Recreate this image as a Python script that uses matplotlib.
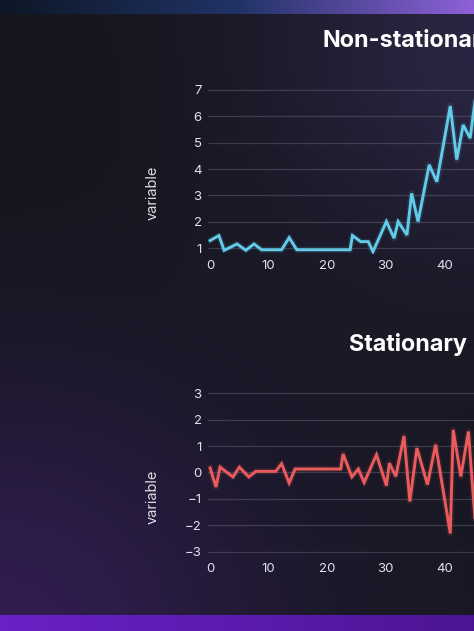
import numpy as np
import matplotlib
matplotlib.use("Agg")
import matplotlib.pyplot as plt

# values (x, y of each vertex)
nonstat_x = [0.0, 1.5, 2.4, 4.6, 6.1, 7.5, 8.8, 12.2, 13.5, 14.8, 23.9, 24.3, 25.7, 27.0,
             27.8, 30.1, 31.4, 32.1, 33.6, 34.4, 35.5, 37.4, 38.7, 41.0, 42.1, 43.2, 44.4, 45.2]
nonstat_y = [1.29, 1.48, 0.92, 1.16, 0.92, 1.16, 0.94, 0.94, 1.40, 0.94, 0.94, 1.48, 1.25, 1.25,
             0.87, 2.01, 1.38, 2.01, 1.50, 3.08, 2.01, 4.16, 3.52, 6.39, 4.36, 5.67, 5.17, 6.54]

stat_x = [0.0, 1.0, 1.7, 3.9, 5.0, 6.6, 7.8, 11.2, 12.2, 13.5, 14.5, 22.3, 22.7, 24.2, 25.3,
          26.3, 28.4, 30.1, 30.6, 31.7, 33.1, 34.1, 35.3, 37.1, 38.5, 41.0, 41.5, 42.8, 44.1, 45.2]
stat_y = [0.17, -0.55, 0.20, -0.17, 0.20, -0.17, 0.04, 0.04, 0.33, -0.40, 0.13, 0.13, 0.70, -0.17,
          0.13, -0.38, 0.67, -0.50, 0.35, -0.15, 1.38, -1.10, 0.92, -0.46, 1.05, -2.31, 1.61, -0.15,
          1.55, -1.72]

titles = ["Non-stationary", "Stationary"]
x_ticks = [0, 10, 20, 30, 40]
top_yticks = [1, 2, 3, 4, 5, 6, 7]
bot_yticks = [-3, -2, -1, 0, 1, 2, 3]

W, H = 474, 631
plt.rcParams["font.family"] = ["Inter", "DejaVu Sans"]

fig = plt.figure(figsize=(W / 100, H / 100), dpi=100)

# background: dark with purple glows and two bands
bg = fig.add_axes([0, 0, 1, 1])
yy, xx = np.mgrid[0:H, 0:W]
img = np.zeros((H, W, 3))
img[:] = np.array([0.094, 0.094, 0.137])
g1 = np.exp(-(((xx - 0) / 260.0) ** 2 + ((yy - 640) / 240.0) ** 2))
img += g1[..., None] * np.array([0.10, 0.02, 0.18])
g2 = np.exp(-(((xx - 480) / 200.0) ** 2 + ((yy - 40) / 200.0) ** 2))
img += g2[..., None] * np.array([0.07, 0.05, 0.12])
g3 = np.exp(-(((xx - 0) / 200.0) ** 2 + ((yy - 120) / 200.0) ** 2))
img -= g3[..., None] * np.array([0.01, 0.01, 0.02])
t = xx / W
top = (yy < 14)
c_left = np.array([0.05, 0.09, 0.15])
c_mid = np.array([0.13, 0.20, 0.40])
c_right = np.array([0.56, 0.38, 0.85])
tb = np.where(t[..., None] < 0.5,
              c_left + (c_mid - c_left) * (t[..., None] / 0.5),
              c_mid + (c_right - c_mid) * ((t[..., None] - 0.5) / 0.5))
img[top] = tb[top]
bot = (yy >= 615)
bb = np.array([0.42, 0.13, 0.78]) + (np.array([0.30, 0.08, 0.58]) - np.array([0.42, 0.13, 0.78])) * t[..., None]
img[bot] = bb[bot]
bg.imshow(np.clip(img, 0, 1), aspect="auto", extent=[0, 1, 0, 1], origin="upper")
bg.axis("off")

px = 5.858  # pixels per x unit


def make_axes(top_px, bottom_px, ylim):
    left_px = 208
    right_px = 503
    ax = fig.add_axes([left_px / W, 1 - bottom_px / H, (right_px - left_px) / W, (bottom_px - top_px) / H])
    x0 = (left_px - 210.1) / px
    ax.set_xlim(x0, x0 + (right_px - left_px) / px)
    ax.set_ylim(*ylim)
    ax.set_facecolor("none")
    for s in ax.spines.values():
        s.set_visible(False)
    ax.grid(axis="y", color="#8a8aa0", alpha=0.3, linewidth=0.9)
    ax.tick_params(length=0, colors="#e2e2ea", labelsize=9.5, pad=4.5)
    ax.set_xticks(x_ticks)
    return ax


ax1 = make_axes(88.6, 254, (0.78, 7.05))
ax1.set_yticks(top_yticks)
ax1.plot(nonstat_x, nonstat_y, color="#5cc6e6", lw=4.5, alpha=0.12, solid_joinstyle="round")
ax1.plot(nonstat_x, nonstat_y, color="#63cbea", lw=2.1, solid_joinstyle="miter")
ax1.set_ylabel("variable", color="#dcdce4", fontsize=10.5)
ax1.yaxis.set_label_coords(-0.165, 0.37)

ax2 = make_axes(390.5, 556.5, (-3.18, 3.1))
ax2.set_yticks(bot_yticks)
ax2.plot(stat_x, stat_y, color="#e45656", lw=4.5, alpha=0.12, solid_joinstyle="round")
ax2.plot(stat_x, stat_y, color="#ea5c5c", lw=2.1, solid_joinstyle="miter")
ax2.set_ylabel("variable", color="#dcdce4", fontsize=10.5)
ax2.yaxis.set_label_coords(-0.165, 0.36)

fig.text(322 / W, 1 - 41 / H, titles[0], color="white", fontsize=16.8, fontweight="bold",
         ha="left", va="center")
fig.text(349 / W, 1 - 345 / H, titles[1], color="white", fontsize=16.8, fontweight="bold",
         ha="left", va="center")

fig.savefig("out.png", dpi=100)
